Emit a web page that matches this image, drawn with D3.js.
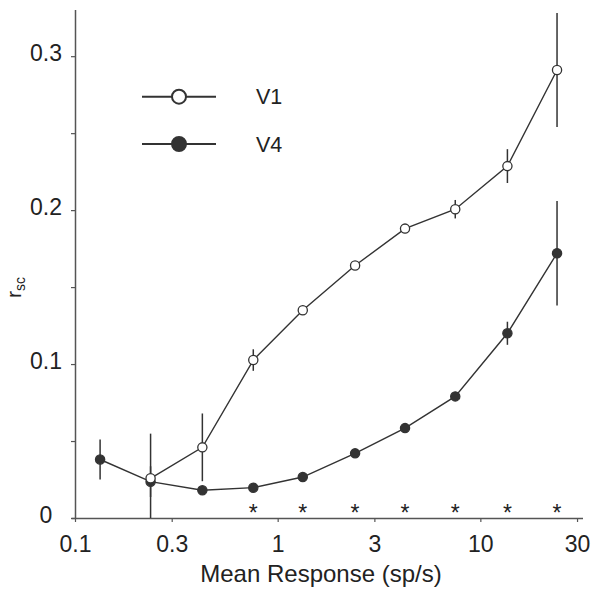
<!DOCTYPE html>
<html><head><meta charset="utf-8">
<script src="https://cdn.jsdelivr.net/npm/d3@7"></script>
<style>body{margin:0;background:#fff}svg{display:block}text{font-family:"Liberation Sans",Arial,sans-serif;fill:#222}</style>
</head><body><svg id="c" width="600" height="595"></svg>
<script>
const xV4 = [0.133, 0.236, 0.425, 0.758, 1.33, 2.41, 4.25, 7.52, 13.6, 23.9];
const yV4 = [0.038, 0.0236, 0.018, 0.0197, 0.0266, 0.042, 0.0584, 0.079, 0.120, 0.172];
const eV4 = [0.013, 0.010, 0.002, 0.002, 0.002, 0.002, 0.002, 0.002, 0.0075, 0.034];
const xV1 = [0.236, 0.425, 0.758, 1.33, 2.41, 4.25, 7.52, 13.6, 23.9];
const yV1 = [0.0258, 0.0459, 0.1026, 0.135, 0.164, 0.188, 0.2006, 0.2286, 0.291];
const eV1 = [0.029, 0.022, 0.007, 0.003, 0.002, 0.003, 0.006, 0.011, 0.037];
const starX = [0.758, 1.33, 2.41, 4.25, 7.52, 13.6, 23.9];
const xTicks = [0.1, 0.3, 1, 3, 10, 30];
const yTicks = [0, 0.1, 0.2, 0.3];
const yMinor = [0.05, 0.15, 0.25];

const svg = d3.select("#c");
const x = d3.scaleLog().domain([0.1, 32.1]).range([75, 583]);
const y = d3.scaleLinear().domain([0, 0.33]).range([518, 10]);
const dark = "#333", axc = "#555";
const FF = '"Liberation Sans",Arial,sans-serif';

// axes
const xa = svg.append("g").attr("transform", "translate(0,518)")
  .call(d3.axisBottom(x).tickValues(xTicks).tickSize(4).tickSizeOuter(0).tickFormat(d => String(d)).tickPadding(13.5));
xa.select(".domain").attr("stroke", axc).attr("stroke-width", 1.5).attr("d", "M71.5,0.5H583");
xa.selectAll(".tick line").attr("stroke", axc).attr("stroke-width", 1.2);
xa.selectAll(".tick text").attr("font-size", 23).attr("fill", "#222").attr("font-family", FF);

const ya = svg.append("g").attr("transform", "translate(75,0)")
  .call(d3.axisLeft(y).tickValues(yTicks.concat(yMinor)).tickSize(4).tickSizeOuter(0)
    .tickFormat(d => yTicks.includes(d) ? String(d) : ""));
ya.select(".domain").attr("stroke", axc).attr("stroke-width", 1.5).attr("d", "M0.5,518.5V10");
ya.selectAll(".tick line").attr("stroke", axc).attr("stroke-width", 1.2);
ya.selectAll(".tick text").attr("font-size", 23).attr("fill", "#222").attr("text-anchor", "middle")
  .attr("x", -29).attr("dy", "0.2em").attr("font-family", FF);

// labels
svg.append("text").attr("x", 321).attr("y", 582).attr("text-anchor", "middle").attr("font-size", 24).text("Mean Response (sp/s)");
const yl = svg.append("text").attr("transform", "translate(21,298) rotate(-90)").attr("font-size", 21);
yl.append("tspan").text("r");
yl.append("tspan").attr("font-size", 14).attr("dy", 4).text("sc");

const clipBottom = v => Math.max(0, v);
function series(xs, ys, es, fill) {
  const g = svg.append("g");
  g.selectAll("line.err").data(xs).join("line")
    .attr("x1", d => x(d)).attr("x2", d => x(d))
    .attr("y1", (d, i) => y(ys[i] + es[i])).attr("y2", (d, i) => y(clipBottom(ys[i] - es[i])))
    .attr("stroke", dark).attr("stroke-width", 1.5);
  g.append("path").datum(xs.map((d, i) => [d, ys[i]]))
    .attr("d", d3.line().x(d => x(d[0])).y(d => y(d[1])))
    .attr("fill", "none").attr("stroke", dark).attr("stroke-width", 1.4);
  g.selectAll("circle").data(xs).join("circle")
    .attr("cx", d => x(d)).attr("cy", (d, i) => y(ys[i])).attr("r", 4.6)
    .attr("fill", fill).attr("stroke", dark).attr("stroke-width", 1.3);
}
series(xV4, yV4, eV4, dark);
series(xV1, yV1, eV1, "#fff");

// stars
svg.selectAll("text.star").data(starX).join("text").attr("class", "star")
  .attr("x", d => x(d)).attr("y", 521).attr("text-anchor", "middle").attr("font-size", 23).text("*");

// legend
const leg = [{name: "V1", fill: "#fff", yy: 96.7}, {name: "V4", fill: dark, yy: 144}];
leg.forEach(l => {
  svg.append("line").attr("x1", 142).attr("x2", 216).attr("y1", l.yy).attr("y2", l.yy).attr("stroke", dark).attr("stroke-width", 2);
  svg.append("circle").attr("cx", 179).attr("cy", l.yy).attr("r", 7).attr("fill", l.fill).attr("stroke", dark).attr("stroke-width", 2);
  svg.append("text").attr("x", 256).attr("y", l.yy + 7.5).attr("font-size", 21.5).text(l.name);
});
</script></body></html>
